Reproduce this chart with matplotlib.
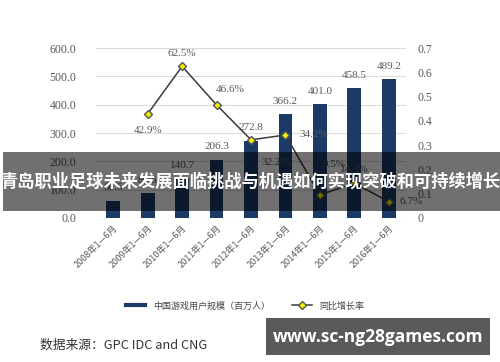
import numpy as np
import matplotlib
matplotlib.use("Agg")
import matplotlib.pyplot as plt
from matplotlib.lines import Line2D
from matplotlib.patches import Rectangle

plt.rcParams['font.family'] = ['Noto Sans CJK SC', 'DejaVu Sans']

# data
years = ["2008年1—6月", "2009年1—6月", "2010年1—6月", "2011年1—6月",
         "2012年1—6月", "2013年1—6月", "2014年1—6月", "2015年1—6月",
         "2016年1—6月"]
users = [60.6, 86.6, 140.7, 206.3, 272.8, 366.2, 401.0, 458.5, 489.2]
growth = [None, 0.429, 0.625, 0.466, 0.322, 0.342, 0.095, 0.143, 0.067]
growth_lbl = ["", "42.9%", "62.5%", "46.6%", "32.2%", "34.2%", "9.5%", "14.3%", "6.7%"]
# label offsets in points (dx, dy) for growth labels
g_off = [(0, 0), (0, -12), (0, 9), (10, 11), (18, -16), (10, 0), (10, 22), (0, 10), (8, 0)]
g_ha = ["center", "center", "center", "center", "center", "left", "center", "center", "left"]
left_ticks = [0, 100, 200, 300, 400, 500, 600]
right_ticks = [0, 0.1, 0.2, 0.3, 0.4, 0.5, 0.6, 0.7]

num_font = "Liberation Serif"
navy = "#1b3a66"
tick_col = "#595959"

fig = plt.figure(figsize=(5, 3.62), dpi=100)
ax = fig.add_axes([0.192, 0.398, 0.62, 0.469])
x = np.arange(len(years))

ax.bar(x, users, width=0.4, color=navy, zorder=2)
for xi, v in zip(x, users):
    ax.annotate(f"{v:.1f}", (xi, v), xytext=(0, 6), textcoords="offset points",
                ha="center", va="bottom", fontsize=8, color=tick_col,
                family=num_font)

ax.set_xlim(-0.5, len(years) - 0.5)
ax.set_ylim(0, 600)
ax.set_yticks(left_ticks)
ax.set_yticklabels([f"{t:.1f}" for t in left_ticks], family=num_font,
                   fontsize=8.5, color=tick_col)
ax.grid(axis="y", color="#dcdcdc", linewidth=0.8, zorder=0)
ax.set_axisbelow(True)
for s in ax.spines.values():
    s.set_visible(False)
ax.tick_params(axis="both", length=0, pad=14)
ax.set_xticks(x)
ax.set_xticklabels(years, rotation=45, ha="right", rotation_mode="anchor",
                   fontsize=6.5, color=tick_col, family=["Noto Sans CJK SC"])
ax.tick_params(axis="x", pad=4)

ax2 = ax.twinx()
ax2.set_ylim(0, 0.7)
ax2.set_yticks(right_ticks)
ax2.set_yticklabels(["0"] + [f"{t:.1f}" for t in right_ticks[1:]],
                    family=num_font, fontsize=8.5, color=tick_col)
ax2.tick_params(axis="y", length=0, pad=8)
for s in ax2.spines.values():
    s.set_visible(False)
gx = [xi for xi, g in zip(x, growth) if g is not None]
gy = [g for g in growth if g is not None]
ax2.plot(gx, gy, color="#3a3a3a", linewidth=1.1, marker="D", markersize=4.5,
         markerfacecolor="#f2f200", markeredgecolor="#555555", zorder=3)
for xi, g, lbl, off, ha in zip(x, growth, growth_lbl, g_off, g_ha):
    if g is None:
        continue
    ax2.annotate(lbl, (xi, g), xytext=off, textcoords="offset points",
                 ha=ha, va="center", fontsize=8, color=tick_col,
                 family=num_font)

# legend
handles = [Line2D([], [], color=navy, linewidth=3),
           Line2D([], [], color="#3a3a3a", linewidth=1.1, marker="D",
                  markersize=4, markerfacecolor="#f2f200",
                  markeredgecolor="#555555")]
fig.legend(handles, ["中国游戏用户规模（百万人）", "同比增长率"],
           loc="center", bbox_to_anchor=(0.49, 0.155), ncol=2, frameon=False,
           fontsize=6.5, handlelength=2.2, columnspacing=2.5,
           labelcolor="#444444")

fig.text(0.08, 0.047, "数据来源：GPC IDC and CNG", fontsize=9.2,
         color="#333333", va="center", ha="left")

# banner overlay
fig.patches.append(Rectangle((0.006, 0.417), 0.994, 0.163,
                             transform=fig.transFigure,
                             facecolor=(0, 0, 0, 0.56), edgecolor="none",
                             zorder=10))
fig.text(0.5, 0.497, "青岛职业足球未来发展面临挑战与机遇如何实现突破和可持续增长",
         fontsize=12.4, fontweight="bold", color="white", ha="center",
         va="center", zorder=11)

# watermark box
fig.patches.append(Rectangle((0.532, 0.019), 0.448, 0.103,
                             transform=fig.transFigure, facecolor="#5a5a5a",
                             edgecolor="none", zorder=10))
fig.text(0.756, 0.07, "www.sc-ng28games.com", fontsize=12.5,
         fontweight="bold", color="white", ha="center", va="center",
         zorder=11, family=["Open Sans", "DejaVu Sans"])

fig.savefig("out.png", dpi=100)
